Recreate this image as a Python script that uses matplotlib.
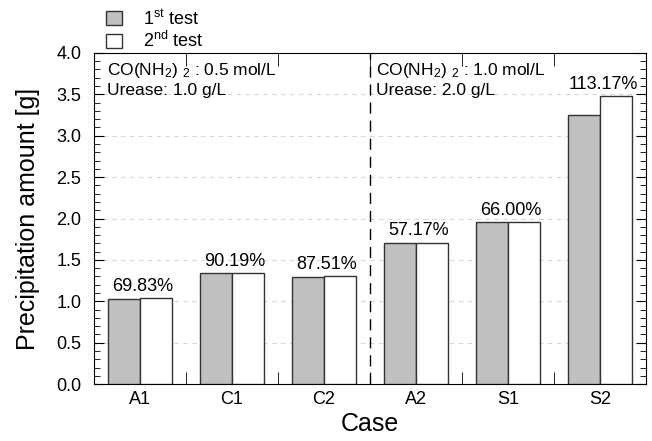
import matplotlib.pyplot as plt
import numpy as np
from matplotlib.ticker import MultipleLocator

plt.rcParams['font.family'] = ['Liberation Sans', 'DejaVu Sans']
plt.rcParams['mathtext.fontset'] = 'custom'
plt.rcParams['mathtext.rm'] = 'Liberation Sans'
plt.rcParams['mathtext.it'] = 'Liberation Sans'

cases = ['A1', 'C1', 'C2', 'A2', 'S1', 'S2']
test1 = [1.03, 1.34, 1.29, 1.70, 1.96, 3.25]
test2 = [1.04, 1.34, 1.30, 1.71, 1.96, 3.48]
ratios = ['69.83%', '90.19%', '87.51%', '57.17%', '66.00%', '113.17%']
urea = ['CO(NH$_2$) $_2$ : 0.5 mol/L', 'CO(NH$_2$) $_2$ : 1.0 mol/L']
urease = ['Urease: 1.0 g/L', 'Urease: 2.0 g/L']

x = np.arange(len(cases))
width = 0.35

fig = plt.figure(figsize=(6.52, 4.41), dpi=100)
ax = fig.add_axes([0.144, 0.129, 0.847, 0.751])

b1 = ax.bar(x - width / 2, test1, width, color='#c0c0c0', edgecolor='#333333',
            linewidth=1, label=r'1$^{\rm st}$ test', zorder=3)
b2 = ax.bar(x + width / 2, test2, width, color='white', edgecolor='#333333',
            linewidth=1, label=r'2$^{\rm nd}$ test', zorder=3)

for i in range(len(cases)):
    top = max(test1[i], test2[i])
    ax.text(x[i] + 0.03, top + 0.04, ratios[i], ha='center', va='bottom', fontsize=13)

ax.axvline(2.5, color='black', linestyle=(0, (8, 5)), linewidth=1, zorder=4)

for xs, t1, t2 in zip([-0.36, 2.565], urea, urease):
    ax.text(xs, 3.734, t1, ha='left', va='baseline', fontsize=12.5)
    ax.text(xs, 3.49, t2, ha='left', va='baseline', fontsize=12.5)

ax.set_xlim(-0.5, 5.5)
ax.set_ylim(0, 4.0)
ax.set_xticks(x, cases)
ax.xaxis.set_minor_locator(MultipleLocator(1, offset=0.5))
ax.yaxis.set_major_locator(MultipleLocator(0.5))
ax.yaxis.set_minor_locator(MultipleLocator(0.1))
ax.yaxis.set_major_formatter('{x:.1f}')
ax.tick_params(axis='x', which='major', length=0, labelsize=13, pad=5)
ax.tick_params(axis='x', which='minor', direction='in', length=9, top=True, bottom=True)
ax.tick_params(axis='y', which='major', direction='in', length=7, labelsize=13,
               left=True, right=True, pad=9)
ax.tick_params(axis='y', which='minor', direction='in', length=4, left=True, right=True)
ax.grid(axis='y', which='major', color='#d8d8d8', linestyle=(0, (4, 4)), linewidth=0.8, zorder=0)
ax.set_axisbelow(True)

ax.set_ylabel('Precipitation amount [g]', fontsize=18, labelpad=12)
ax.set_xlabel('Case', fontsize=18, labelpad=3)

ax.legend(handles=[b1, b2], loc='lower left', bbox_to_anchor=(0.022, 1.005),
          frameon=False, fontsize=13, handlelength=0.9, handleheight=0.8,
          handletextpad=1.15, labelspacing=0.15, borderaxespad=0, borderpad=0)

fig.savefig('out.png', dpi=100)
